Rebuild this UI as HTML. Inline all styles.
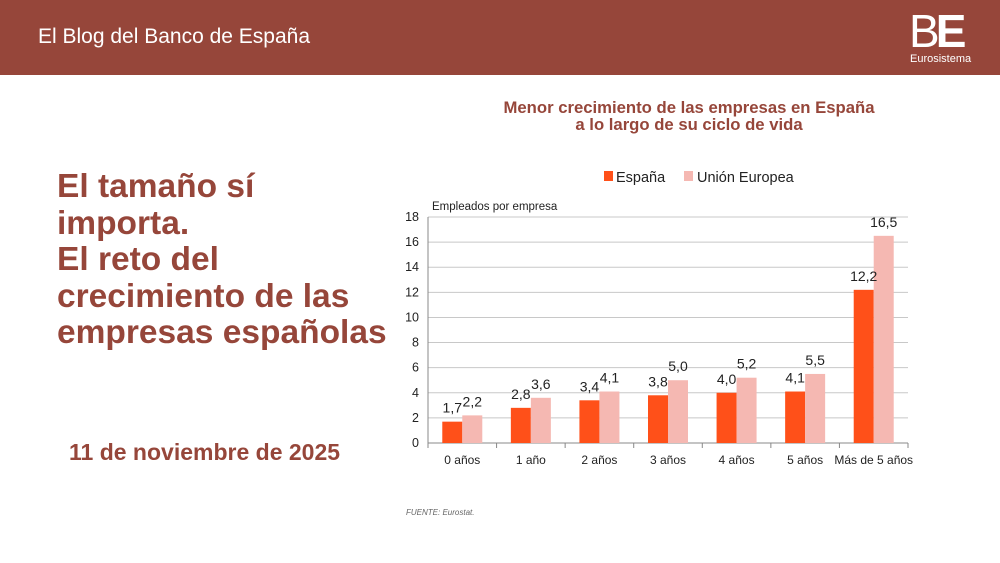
<!DOCTYPE html>
<html><head><meta charset="utf-8">
<style>
body{margin:0;width:1000px;height:563px;background:#fff;font-family:"Liberation Sans",sans-serif;position:relative;overflow:hidden}
.hdr{position:absolute;left:0;top:0;width:1000px;height:75px;background:#96463a}
.ht{position:absolute;left:38px;top:25px;color:#fff;font-size:21px}
.logo{position:absolute;left:909px;top:10px;color:#fff;font-size:46px;line-height:42px;letter-spacing:-4px}
.logo b{font-weight:bold}
.eu{position:absolute;left:910px;top:53px;color:#fff;font-size:11px}
.title{position:absolute;left:57px;top:169px;color:#96463a;font-size:33.5px;font-weight:bold;line-height:36.5px}
.date{position:absolute;left:69px;top:439px;color:#96463a;font-size:23px;font-weight:bold}
.src{position:absolute;left:406px;top:508px;font-size:8px;font-style:italic;color:#666}
</style></head><body>
<div class="hdr">
<div class="ht">El Blog del Banco de España</div>
<div class="logo">B<b>E</b></div>
<div class="eu">Eurosistema</div>
</div>
<div class="title">El tamaño sí<br>importa.<br>El reto del<br>crecimiento de las<br>empresas españolas</div>
<div class="date">11 de noviembre de 2025</div>
<div class="src">FUENTE: Eurostat.</div>
<svg id="chart" width="1000" height="563" style="position:absolute;left:0;top:0">
<text x="689" y="113" text-anchor="middle" font-size="16.7" font-weight="bold" fill="#96463a">Menor crecimiento de las empresas en España</text>
<text x="689" y="130" text-anchor="middle" font-size="16.7" font-weight="bold" fill="#96463a">a lo largo de su ciclo de vida</text>
<rect x="604" y="171" width="9" height="10" fill="#ff5019"/>
<text x="616" y="182" font-size="14.5" fill="#222">España</text>
<rect x="684" y="171" width="9" height="10" fill="#f5b8b2"/>
<text x="697" y="182" font-size="14.5" fill="#222">Unión Europea</text>
<text x="432" y="210" font-size="11.5" fill="#222">Empleados por empresa</text>
<g id="g"></g>
</svg>
<script>
const categories=["0 años","1 año","2 años","3 años","4 años","5 años","Más de 5 años"];
const espana=[1.7,2.8,3.4,3.8,4.0,4.1,12.2];
const ue=[2.2,3.6,4.1,5.0,5.2,5.5,16.5];
const yTicks=[0,2,4,6,8,10,12,14,16,18];
const NS="http://www.w3.org/2000/svg";
const g=document.getElementById('g');
const x0=428,x1=908,yB=443,yT=217,ymax=18;
const cw=(x1-x0)/categories.length;
const y=v=>yB-(v/ymax)*(yB-yT);
const xc=i=>x0+cw*(i+0.5);
const fmt=v=>v.toFixed(1).replace('.',',');
function mk(t,a,txt){const e=document.createElementNS(NS,t);for(const k in a)e.setAttribute(k,a[k]);if(txt!=null)e.textContent=txt;g.appendChild(e);return e;}
yTicks.forEach(t=>{
 const l=mk('line',{x1:x0,x2:x1,y1:y(t),y2:y(t),stroke:t===0?'#888':'#c8c8c8','stroke-width':1});
 
 
 const tx=mk('text',{x:419,y:y(t)+4,'text-anchor':'end','font-size':12.5,fill:'#222'},t);
 
 
});
const ax=mk('line',{x1:x0,x2:x0,y1:yT,y2:yB,stroke:'#888'});


for(let i=0;i<=categories.length;i++){
 const t=mk('line',{x1:x0+cw*i,x2:x0+cw*i,y1:yB,y2:yB+5,stroke:'#888'});
 
 
}
const bw=20;
categories.forEach((c,i)=>{
 const cx=xc(i);
 const a=mk('rect',{x:cx-bw,y:y(espana[i]),width:bw,height:yB-y(espana[i]),fill:'#ff5019'});
 
 
 const b=mk('rect',{x:cx,y:y(ue[i]),width:bw,height:yB-y(ue[i]),fill:'#f5b8b2'});
 
 
 const la=mk('text',{x:cx-bw/2,y:y(espana[i])-9,'text-anchor':'middle','font-size':14,fill:'#222'},fmt(espana[i]));
 
 
 const lb=mk('text',{x:cx+bw/2,y:y(ue[i])-9,'text-anchor':'middle','font-size':14,fill:'#222'},fmt(ue[i]));
 
 
 const xl=mk('text',{x:cx,y:464,'text-anchor':'middle','font-size':12,fill:'#222'},c);
 
 
});
</script>
</body></html>
